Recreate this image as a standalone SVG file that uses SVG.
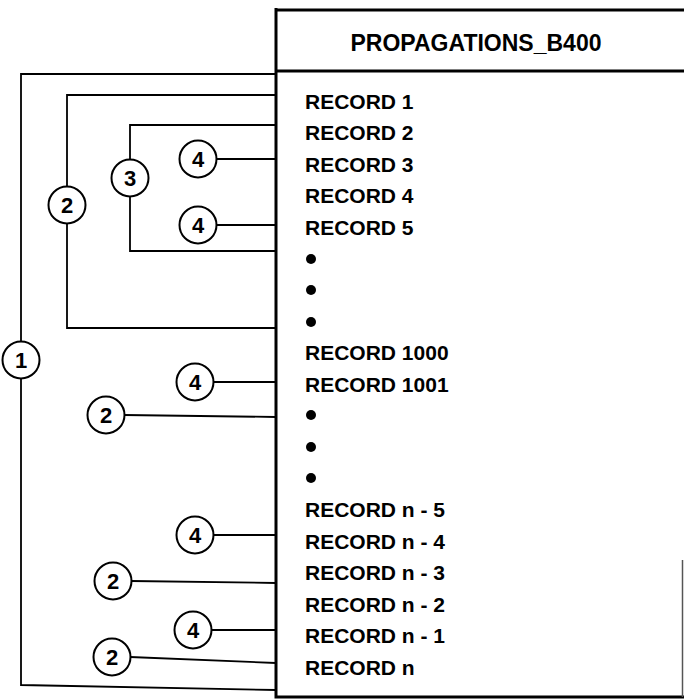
<svg xmlns="http://www.w3.org/2000/svg" width="684" height="700" viewBox="0 0 684 700">
<style>
.rec{font-family:"Liberation Sans",Arial,sans-serif;font-weight:bold;font-size:21px;fill:#000}
.hdr{font-family:"Liberation Sans",Arial,sans-serif;font-weight:bold;font-size:23px;fill:#000;text-anchor:middle}
.num{font-family:"Liberation Sans",Arial,sans-serif;font-weight:bold;font-size:22px;fill:#000;text-anchor:middle}
.ring{fill:#fff;stroke:#000;stroke-width:2}
.wire{fill:none;stroke:#000;stroke-width:1.8}
.edge{fill:none;stroke:#000;stroke-width:3}
</style>
<rect width="684" height="700" fill="#fff"/>
<g id="connectors">
<path class="wire" d="M276 74 H21 V342 M21 378 V685 L276 690"/>
<path class="wire" d="M276 95 H67 V187 M67 223 V328 H276"/>
<path class="wire" d="M276 125 H130 V160 M130 196 V251 H276"/>
<path class="wire" d="M216 159 H276"/>
<path class="wire" d="M216 225 H276"/>
<path class="wire" d="M213 382 H276"/>
<path class="wire" d="M124 415 L276 417"/>
<path class="wire" d="M213 535 H276"/>
<path class="wire" d="M131 581 L276 583"/>
<path class="wire" d="M211 630 H276"/>
<path class="wire" d="M130 657 L276 663"/>
</g>
<g id="propagations_b400">
<path class="edge" d="M276 8 V697 H684"/>
<path class="edge" d="M276 10 H684"/>
<path class="edge" d="M276 71 H684"/>
<path d="M682.5 560 V697" stroke="#555" stroke-width="1.5" fill="none"/>
<text class="hdr" x="476" y="51">PROPAGATIONS_B400</text>
<text class="rec" x="305" y="108.5">RECORD 1</text>
<text class="rec" x="305" y="140">RECORD 2</text>
<text class="rec" x="305" y="171.5">RECORD 3</text>
<text class="rec" x="305" y="203">RECORD 4</text>
<text class="rec" x="305" y="234.5">RECORD 5</text>
<circle cx="311" cy="259" r="5"/>
<circle cx="311" cy="290" r="5"/>
<circle cx="311" cy="322" r="5"/>
<text class="rec" x="305" y="360">RECORD 1000</text>
<text class="rec" x="305" y="391.5">RECORD 1001</text>
<circle cx="311" cy="415" r="5"/>
<circle cx="311" cy="447" r="5"/>
<circle cx="311" cy="478" r="5"/>
<text class="rec" x="305" y="517">RECORD n - 5</text>
<text class="rec" x="305" y="548.5">RECORD n - 4</text>
<text class="rec" x="305" y="580">RECORD n - 3</text>
<text class="rec" x="305" y="611.5">RECORD n - 2</text>
<text class="rec" x="305" y="643">RECORD n - 1</text>
<text class="rec" x="305" y="674.5">RECORD n</text>
</g>
<g id="c1"><circle class="ring" cx="21" cy="360" r="18.5"/><text class="num" x="21" y="368">1</text></g>
<g id="c2_top"><circle class="ring" cx="67" cy="205" r="18.5"/><text class="num" x="67" y="213">2</text></g>
<g id="c3"><circle class="ring" cx="130" cy="178" r="18.5"/><text class="num" x="130" y="186">3</text></g>
<g id="c4_r3"><circle class="ring" cx="198" cy="159" r="18.5"/><text class="num" x="198" y="167">4</text></g>
<g id="c4_r5"><circle class="ring" cx="198" cy="225" r="18.5"/><text class="num" x="198" y="233">4</text></g>
<g id="c4_r1001"><circle class="ring" cx="195" cy="382" r="18.5"/><text class="num" x="195" y="390">4</text></g>
<g id="c2_mid"><circle class="ring" cx="106" cy="415" r="18.5"/><text class="num" x="106" y="423">2</text></g>
<g id="c4_n4"><circle class="ring" cx="195" cy="535" r="18.5"/><text class="num" x="195" y="543">4</text></g>
<g id="c2_n3"><circle class="ring" cx="113" cy="581" r="18.5"/><text class="num" x="113" y="589">2</text></g>
<g id="c4_n1"><circle class="ring" cx="193" cy="630" r="18.5"/><text class="num" x="193" y="638">4</text></g>
<g id="c2_n"><circle class="ring" cx="112" cy="657" r="18.5"/><text class="num" x="112" y="665">2</text></g>
</svg>
